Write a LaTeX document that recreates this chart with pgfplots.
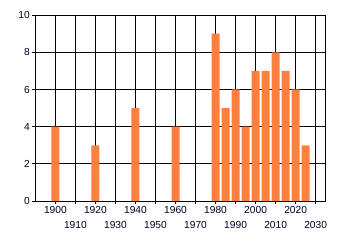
\documentclass[border=0pt]{standalone}
\usepackage{pgfplots}
\pgfplotsset{compat=1.18}
\usepackage{fontspec}
\setmainfont{Liberation Sans}
\definecolor{barorange}{RGB}{255,127,64}
\begin{document}
\begin{tikzpicture}
\begin{axis}[
  scale only axis,
  width=290pt, height=186pt,
  xmin=1890, xmax=2035,
  ymin=0, ymax=10,
  ytick={0,2,4,6,8,10},
  xtick={1900,1920,1940,1960,1980,2000,2020},
  extra x ticks={1910,1930,1950,1970,1990,2010,2030},
  extra x tick style={xticklabel style={yshift=-15pt}},
  grid=major,
  major grid style={black, line width=1pt},
  axis line style={black, line width=1pt},
  tick style={black, line width=1pt},
  tick align=outside,
  major tick length=3pt,
  xtick pos=bottom, ytick pos=left,
  /pgf/number format/assume math mode=true,
  /pgf/number format/1000 sep={},
  tick label style={font=\fontsize{10.2}{12}\selectfont, text=black!85!blue},
  xticklabel style={yshift=1.5pt},
  yticklabel style={xshift=1pt},
  ybar, bar width=4,
]
\addplot[fill=barorange, draw=none] coordinates {
 (1900,4) (1920,3) (1940,5) (1960,4) (1980,9) (1985,5) (1990,6) (1995,4)
 (2000,7) (2005,7) (2010,8) (2015,7) (2020,6) (2025,3)
};
\end{axis}
\path ([shift={(-35.3pt,-44pt)}]current axis.south west) rectangle ([shift={(14.3pt,15pt)}]current axis.north east);
\end{tikzpicture}
\end{document}
